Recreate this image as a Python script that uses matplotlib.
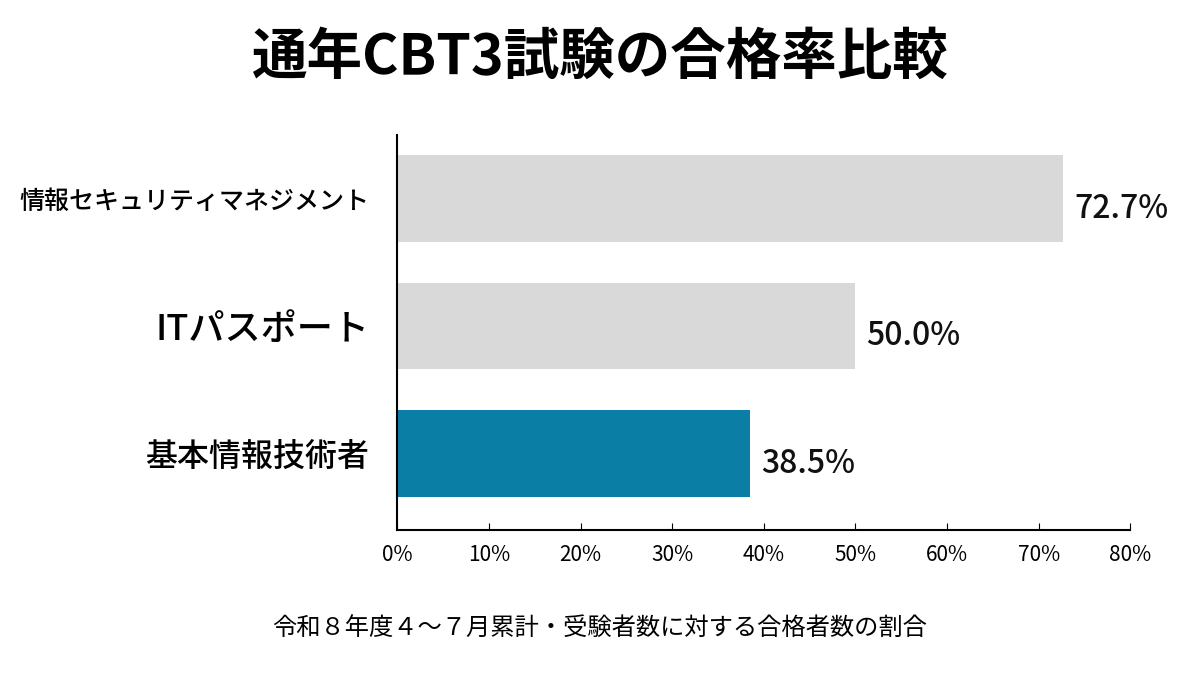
import matplotlib
matplotlib.use("Agg")
import matplotlib.pyplot as plt
from matplotlib.ticker import FuncFormatter

plt.rcParams['font.family'] = ['Noto Sans CJK JP', 'DejaVu Sans']

categories = ["基本情報技術者", "ITパスポート", "情報セキュリティマネジメント"]
values = [38.5, 50.0, 72.7]
colors = ["#0b7ea6", "#d9d9d9", "#d9d9d9"]
label_sizes = [23, 26, 18]

fig = plt.figure(figsize=(12, 6.75), dpi=100)
ax = fig.add_axes([0.331, 0.215, 0.611, 0.585])
ypos = list(range(len(categories)))
ax.barh(ypos, values, height=0.68, color=colors)
for y, v in zip(ypos, values):
    ax.text(v + 1.2, y - 0.08, f"{v:.1f}%", va="center", ha="left", fontsize=23,
            fontweight="medium", color="#111111")
ax.set_xlim(0, 80)
ax.set_ylim(-0.6, 2.5)
ax.set_xticks(range(0, 81, 10))
ax.xaxis.set_major_formatter(FuncFormatter(lambda x, p: f"{int(x)}%"))
ax.set_yticks(ypos)
ax.set_yticklabels(categories)
for lbl, s in zip(ax.get_yticklabels(), label_sizes):
    lbl.set_fontsize(s)
    lbl.set_fontweight("medium")
ax.tick_params(axis="y", length=0, pad=20)
ax.tick_params(axis="x", labelsize=15, length=5, direction="in", pad=10)
for s in ["top", "right"]:
    ax.spines[s].set_visible(False)
ax.spines["left"].set_linewidth(1.5)
ax.spines["bottom"].set_linewidth(1.5)

fig.text(0.5, 0.915, "通年CBT3試験の合格率比較", ha="center", va="center", fontsize=40, fontweight="bold")
fig.text(0.5, 0.068, "令和８年度４〜７月累計・受験者数に対する合格者数の割合", ha="center", va="center", fontsize=17.5)
fig.savefig("out.png", dpi=100)
